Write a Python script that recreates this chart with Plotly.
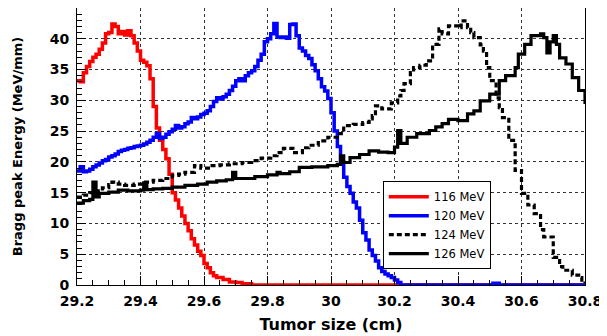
import plotly.graph_objects as go

# ---- data ----
x_116 = [29.20, 29.21, 29.22, 29.23, 29.24, 29.25, 29.26, 29.27, 29.28, 29.29, 29.30, 29.31, 29.32,
         29.33, 29.34, 29.35, 29.36, 29.37, 29.38, 29.39, 29.40, 29.41, 29.42, 29.43, 29.44, 29.45,
         29.46, 29.47, 29.48, 29.49, 29.50, 29.51, 29.52, 29.53, 29.54, 29.55, 29.56, 29.57, 29.58,
         29.59, 29.60, 29.61, 29.62, 29.63, 29.64, 29.66, 29.68, 29.70, 29.72, 29.75, 30.80]
y_116 = [33.2, 33.0, 34.5, 35.5, 36.3, 37.0, 37.5, 38.3, 39.3, 40.8, 41.0, 42.4, 42.0,
         40.8, 41.2, 40.6, 41.3, 40.5, 39.3, 38.0, 36.5, 36.2, 35.6, 33.5, 29.0, 25.5,
         23.5, 22.0, 20.5, 18.0, 15.0, 13.8, 12.5, 11.2, 10.0, 8.8, 7.5, 6.5, 5.5,
         4.8, 3.5, 2.8, 2.0, 1.5, 1.2, 0.9, 0.5, 0.4, 0.2, 0.0, 0.0]

x_120 = [29.20, 29.21, 29.22, 29.23, 29.24, 29.25, 29.26, 29.27, 29.28, 29.29, 29.30, 29.31, 29.32,
         29.33, 29.34, 29.35, 29.36, 29.37, 29.38, 29.39, 29.40, 29.41, 29.42, 29.43, 29.44, 29.45,
         29.46, 29.47, 29.48, 29.49, 29.50, 29.51, 29.52, 29.53, 29.54, 29.55, 29.56, 29.57, 29.58,
         29.59, 29.60, 29.61, 29.62, 29.63, 29.64, 29.65, 29.66, 29.67, 29.68, 29.69, 29.70, 29.71,
         29.72, 29.73, 29.74, 29.75, 29.76, 29.77, 29.78, 29.79, 29.80, 29.81, 29.82, 29.83, 29.84,
         29.85, 29.86, 29.87, 29.88, 29.89, 29.90, 29.91, 29.92, 29.93, 29.94, 29.95, 29.96, 29.97,
         29.98, 29.99, 30.00, 30.01, 30.02, 30.03, 30.04, 30.05, 30.06, 30.07, 30.08, 30.09, 30.10,
         30.11, 30.12, 30.13, 30.14, 30.15, 30.16, 30.17, 30.18, 30.19, 30.20, 30.21, 30.22, 30.51,
         30.53, 30.80]
y_120 = [18.5, 19.2, 18.4, 18.5, 18.8, 19.2, 19.5, 19.8, 20.2, 20.4, 20.8, 21.0, 21.3,
         21.7, 21.9, 22.0, 22.2, 22.3, 22.5, 22.6, 22.7, 22.9, 23.2, 23.5, 24.0, 24.6,
         23.8, 24.0, 24.5, 24.9, 25.3, 25.9, 25.5, 25.7, 26.2, 26.5, 27.2, 27.0, 27.3,
         27.7, 27.9, 28.3, 29.0, 29.8, 30.4, 30.2, 30.6, 31.0, 31.6, 32.3, 33.2, 33.5,
         33.2, 34.0, 34.5, 34.8, 35.5, 36.5, 37.5, 39.5, 40.0, 40.8, 42.5, 40.3, 40.2,
         40.3, 40.1, 42.3, 42.4, 40.5, 38.5, 38.0, 37.3, 36.8, 35.8, 34.8, 33.5, 32.2,
         31.5, 30.3, 28.0, 25.0, 22.5, 20.0, 17.5, 16.0, 14.9, 13.5, 12.5, 10.5, 8.5,
         7.3, 5.7, 4.8, 3.9, 2.8, 2.2, 1.8, 1.5, 1.2, 0.8, 0.4, 0.0, 0.3,
         0.0, 0.0]

x_124 = [29.20, 29.22, 29.24, 29.26, 29.28, 29.30, 29.31, 29.33, 29.35, 29.38, 29.41, 29.44, 29.47,
         29.50, 29.52, 29.54, 29.57, 29.59, 29.62, 29.65, 29.68, 29.72, 29.75, 29.78, 29.81, 29.83,
         29.85, 29.88, 29.91, 29.93, 29.96, 29.99, 30.02, 30.04, 30.07, 30.10, 30.12, 30.13, 30.14,
         30.16, 30.19, 30.21, 30.22, 30.23, 30.25, 30.26, 30.28, 30.30, 30.32, 30.34, 30.35, 30.37,
         30.40, 30.41, 30.43, 30.44, 30.45, 30.47, 30.48, 30.49, 30.50, 30.52, 30.53, 30.54, 30.56,
         30.58, 30.60, 30.62, 30.64, 30.66, 30.67, 30.70, 30.72, 30.73, 30.76, 30.78, 30.79, 30.80]
y_124 = [14.3, 14.6, 15.0, 15.3, 15.8, 16.3, 16.7, 16.4, 16.2, 16.4, 16.7, 17.0, 17.3,
         17.8, 18.0, 18.3, 19.4, 19.0, 19.4, 19.5, 19.7, 19.9, 20.2, 20.6, 21.0, 21.5,
         22.2, 21.5, 22.3, 22.7, 23.4, 24.0, 24.6, 25.9, 26.1, 26.4, 27.0, 27.5, 29.1,
         28.6, 29.6, 30.7, 31.6, 32.7, 34.5, 35.3, 35.7, 36.4, 39.1, 41.6, 40.8, 42.1,
         41.8, 42.9, 41.8, 41.0, 40.2, 39.0, 38.0, 35.3, 33.2, 30.4, 28.8, 27.2, 23.5,
         18.6, 14.9, 13.0, 11.6, 9.0, 7.8, 4.5, 3.0, 2.4, 1.6, 1.2, 0.8, 0.3]

x_126 = [29.20, 29.22, 29.24, 29.25, 29.26, 29.27, 29.30, 29.33, 29.36, 29.40, 29.41, 29.42, 29.44,
         29.47, 29.50, 29.54, 29.58, 29.61, 29.64, 29.67, 29.69, 29.70, 29.72, 29.76, 29.80, 29.83,
         29.84, 29.87, 29.90, 29.94, 29.99, 30.02, 30.03, 30.04, 30.06, 30.09, 30.12, 30.15, 30.18,
         30.20, 30.21, 30.22, 30.24, 30.27, 30.31, 30.33, 30.35, 30.37, 30.40, 30.43, 30.45, 30.47,
         30.50, 30.53, 30.55, 30.58, 30.59, 30.61, 30.63, 30.66, 30.67, 30.68, 30.69, 30.70, 30.71,
         30.72, 30.74, 30.76, 30.78, 30.80]
y_126 = [13.3, 13.7, 13.9, 16.7, 14.3, 14.9, 15.1, 15.4, 15.3, 15.4, 16.6, 15.5, 15.6,
         15.7, 15.9, 16.2, 16.4, 16.7, 16.9, 17.1, 18.3, 17.3, 17.3, 17.6, 17.9, 18.3,
         18.1, 18.4, 19.1, 19.2, 19.4, 19.6, 21.0, 19.9, 20.7, 21.2, 21.8, 21.6, 21.5,
         22.4, 25.1, 23.0, 24.0, 24.6, 25.1, 25.7, 26.2, 26.9, 26.7, 27.8, 28.3, 29.9,
         31.0, 33.2, 34.0, 35.3, 37.5, 39.1, 40.5, 40.8, 40.2, 37.7, 39.5, 40.5, 39.1,
         36.9, 35.9, 33.7, 31.6, 29.4]

x_ticks = [29.2, 29.4, 29.6, 29.8, 30.0, 30.2, 30.4, 30.6, 30.8]
x_tick_labels = ["29.2", "29.4", "29.6", "29.8", "30", "30.2", "30.4", "30.6", "30.8"]
y_ticks = [0, 5, 10, 15, 20, 25, 30, 35, 40]

series = [
    ("116 MeV", x_116, y_116, "#ff0000", "solid", 3.5),
    ("120 MeV", x_120, y_120, "#0000ff", "solid", 3.5),
    ("124 MeV", x_124, y_124, "#000000", "5px,3px", 3.2),
    ("126 MeV", x_126, y_126, "#000000", "solid", 3.2),
]

FONT = "DejaVu Sans, Arial, Helvetica, sans-serif"

fig = go.Figure()
for name, xs, ys, color, dash, w in series:
    fig.add_trace(go.Scatter(
        x=xs, y=ys, mode="lines", name=name,
        line=dict(color=color, width=w, dash=dash, shape="hv"),
    ))

axis_common = dict(
    showline=True, linecolor="#000000", linewidth=1, mirror=True,
    showgrid=True, gridcolor="#333333", gridwidth=1, griddash="dot",
    ticks="inside", ticklen=9, tickcolor="#000000", tickwidth=1,
    zeroline=False, automargin=True,
    tickfont=dict(family=FONT, size=14, color="#000000", weight="bold"),
)

fig.update_xaxes(
    range=[29.2, 30.8], tickvals=x_ticks, ticktext=x_tick_labels,
    minor=dict(ticks="inside", ticklen=5, dtick=0.05, tick0=29.2, tickcolor="#000000", showgrid=False),
    ticklabelstandoff=3,
    title=dict(text="Tumor size (cm)", standoff=11,
               font=dict(family=FONT, size=16, color="#000000", weight="bold")),
    **axis_common,
)
fig.update_yaxes(
    range=[0, 45], tickvals=y_ticks,
    minor=dict(ticks="inside", ticklen=5, dtick=1, tick0=0, tickcolor="#000000", showgrid=False),
    ticklabelstandoff=4,
    title=dict(text="Bragg peak Energy (MeV/mm)", standoff=24,
               font=dict(family=FONT, size=13, color="#000000", weight="bold")),
    **axis_common,
)

# page body has an 8px default margin, so the figure is sized/offset to compensate
fig.update_layout(
    width=599, height=328,
    margin=dict(l=69, r=22, t=0, b=51, autoexpand=False),
    paper_bgcolor="#ffffff", plot_bgcolor="#ffffff",
    legend=dict(
        x=0.602, y=0.375, xanchor="left", yanchor="top",
        bgcolor="#ffffff", bordercolor="#000000", borderwidth=1,
        font=dict(family=FONT, size=11.5, color="#000000"),
        tracegroupgap=0, itemwidth=40,
    ),
    showlegend=True,
)

fig.write_html("out.html")
